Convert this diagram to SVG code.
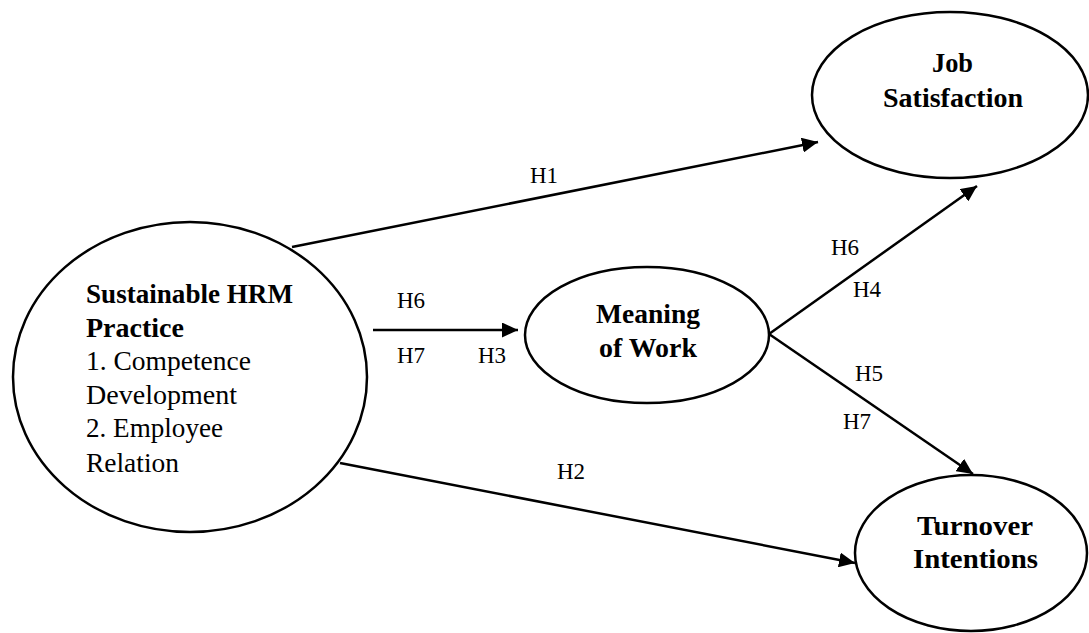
<svg xmlns="http://www.w3.org/2000/svg" width="1089" height="633" viewBox="0 0 1089 633">
<style>
.node{fill:#fff;stroke:#000;stroke-width:2.5}
.nt{font-family:"Liberation Serif","DejaVu Serif",serif;font-size:27px;fill:#000}
.b{font-weight:bold}
.edge{stroke:#000;stroke-width:2.5;fill:none;marker-end:url(#arr)}
.lbl{font-family:"Liberation Serif","DejaVu Serif",serif;font-size:23px;fill:#000}
</style>
<defs>
<marker id="arr" markerUnits="userSpaceOnUse" markerWidth="17" markerHeight="15" refX="16" refY="7.5" orient="auto">
<path d="M0,0 L16,7.5 L0,15 z" fill="#000"/>
</marker>
</defs>
<rect width="1089" height="633" fill="#fff"/>
<g id="connectors">
<line class="edge" x1="292" y1="247" x2="818" y2="142"/>
<line class="edge" x1="340" y1="463" x2="855" y2="563"/>
<line class="edge" x1="373" y1="330" x2="518" y2="330"/>
<line class="edge" x1="769" y1="334" x2="977" y2="186"/>
<line class="edge" x1="769" y1="334" x2="973" y2="474"/>
<text class="lbl" x="530" y="183">H1</text>
<text class="lbl" x="557" y="479">H2</text>
<text class="lbl" x="397" y="308">H6</text>
<text class="lbl" x="397" y="363">H7</text>
<text class="lbl" x="478" y="363">H3</text>
<text class="lbl" x="831" y="255">H6</text>
<text class="lbl" x="853" y="297">H4</text>
<text class="lbl" x="855" y="381">H5</text>
<text class="lbl" x="843" y="429">H7</text>
</g>
<g id="node-hrm">
<ellipse class="node" cx="190" cy="377" rx="177" ry="155"/>
<text class="nt b" x="86" y="303" textLength="207" lengthAdjust="spacingAndGlyphs">Sustainable HRM</text>
<text class="nt b" x="86" y="337" textLength="98" lengthAdjust="spacingAndGlyphs">Practice</text>
<text class="nt" x="86" y="370" textLength="165" lengthAdjust="spacingAndGlyphs">1. Competence</text>
<text class="nt" x="86" y="404" textLength="151" lengthAdjust="spacingAndGlyphs">Development</text>
<text class="nt" x="86" y="437" textLength="137" lengthAdjust="spacingAndGlyphs">2. Employee</text>
<text class="nt" x="86" y="472" textLength="93" lengthAdjust="spacingAndGlyphs">Relation</text>
</g>
<g id="node-job">
<ellipse class="node" cx="950" cy="95" rx="138" ry="83"/>
<text class="nt b" x="932" y="72" textLength="41" lengthAdjust="spacingAndGlyphs">Job</text>
<text class="nt b" x="883" y="107" textLength="140" lengthAdjust="spacingAndGlyphs">Satisfaction</text>
</g>
<g id="node-meaning">
<ellipse class="node" cx="647" cy="335" rx="122" ry="68"/>
<text class="nt b" x="596" y="323" textLength="104" lengthAdjust="spacingAndGlyphs">Meaning</text>
<text class="nt b" x="599" y="357" textLength="98" lengthAdjust="spacingAndGlyphs">of Work</text>
</g>
<g id="node-turnover">
<ellipse class="node" cx="971" cy="553" rx="116" ry="78"/>
<text class="nt b" x="917" y="535" textLength="116" lengthAdjust="spacingAndGlyphs">Turnover</text>
<text class="nt b" x="913" y="568" textLength="125" lengthAdjust="spacingAndGlyphs">Intentions</text>
</g>
</svg>
